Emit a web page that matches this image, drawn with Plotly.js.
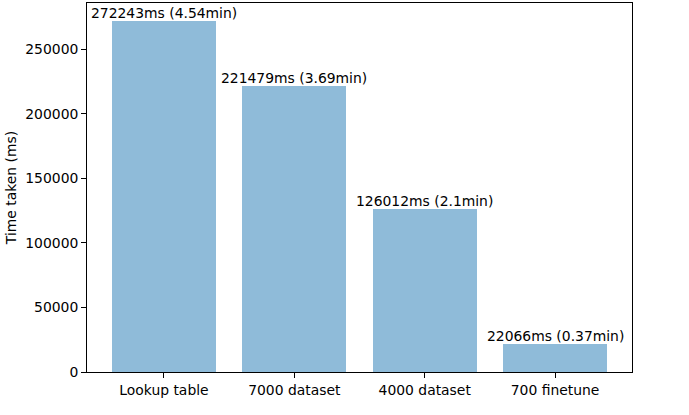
<!DOCTYPE html>
<html>
<head>
<meta charset="utf-8">
<script src="https://cdn.plot.ly/plotly-3.0.1.min.js"></script>
<style>html,body{margin:0;padding:0;background:#fff;}#chart{width:689px;height:415px;}</style>
</head>
<body>
<div id="chart"></div>
<script>
const categories = ["Lookup table", "7000 dataset", "4000 dataset", "700 finetune"];
const timesMs = [272243, 221479, 126012, 22066];
const barLabels = ["272243ms (4.54min)", "221479ms (3.69min)", "126012ms (2.1min)", "22066ms (0.37min)"];
const yTickVals = [0, 50000, 100000, 150000, 200000, 250000];

const xIdx = categories.map((_, i) => i);
const font = {family: "DejaVu Sans", size: 13.9, color: "#000"};

const trace = {
  type: "bar",
  x: xIdx,
  y: timesMs,
  width: 0.8,
  marker: {color: "rgba(31,119,180,0.5)", line: {width: 0}},
  hoverinfo: "none"
};

const annotations = xIdx.map((x, i) => ({
  x: x, y: timesMs[i], xref: "x", yref: "y",
  text: barLabels[i], showarrow: false,
  xanchor: "center", yanchor: "bottom",
  font: font, borderpad: 0, yshift: -1
}));

const ymax = Math.max(...timesMs) * 1.05;

const layout = {
  width: 689, height: 415,
  margin: {l: 87, r: 57, t: 3, b: 43},
  paper_bgcolor: "#fff", plot_bgcolor: "#fff",
  showlegend: false,
  font: font,
  bargap: 0,
  xaxis: {
    range: [-0.59, 3.59],
    tickmode: "array", tickvals: xIdx, ticktext: categories,
    ticks: "outside", ticklen: 4.9, tickwidth: 1, tickcolor: "#000",
    showgrid: false, zeroline: false,
    showline: true, linecolor: "#000", linewidth: 1, mirror: true,
    tickfont: font
  },
  yaxis: {
    range: [0, ymax],
    tickmode: "array", tickvals: yTickVals, ticktext: yTickVals.map(String),
    ticks: "outside", ticklen: 4.9, tickwidth: 1, tickcolor: "#000",
    showgrid: false, zeroline: false,
    showline: true, linecolor: "#000", linewidth: 1, mirror: true,
    tickfont: font,
    title: {text: "Time taken (ms)", font: font, standoff: 5}
  },
  annotations: annotations
};

Plotly.newPlot("chart", [trace], layout, {displayModeBar: false, staticPlot: true});
</script>
</body>
</html>
